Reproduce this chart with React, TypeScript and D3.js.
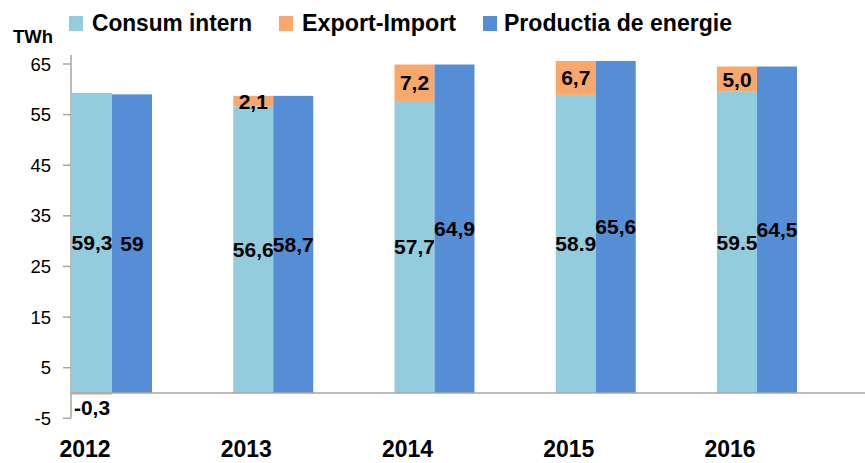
import React from "react";
import * as d3 from "d3";

const years = ["2012", "2013", "2014", "2015", "2016"];
const consum = [59.3, 56.6, 57.7, 58.9, 59.5];
const exportImport = [-0.3, 2.1, 7.2, 6.7, 5.0];
const productie = [59, 58.7, 64.9, 65.6, 64.5];
const consumLabels = ["59,3", "56,6", "57,7", "58.9", "59.5"];
const exportLabels = ["-0,3", "2,1", "7,2", "6,7", "5,0"];
const productieLabels = ["59", "58,7", "64,9", "65,6", "64,5"];
const yTicks = [-5, 5, 15, 25, 35, 45, 55, 65];
const seriesNames = ["Consum intern", "Export-Import", "Productia de energie"];
const colors = ["#93CDDD", "#F9A86B", "#558ED5"];

const W = 865;
const H = 463;
const FONT = "'Liberation Sans', Arial, sans-serif";

export default function App() {
  const x = d3
    .scaleBand<string>()
    .domain(years)
    .range([72, 797])
    .paddingInner(1 - 80 / 161.25)
    .paddingOuter(0)
    .align(0);
  const inner = d3
    .scaleBand<string>()
    .domain(["c", "p"])
    .range([0, x.bandwidth()])
    .padding(0);
  const y = d3.scaleLinear().domain([-5, 65]).range([418.3, 64]);
  const axisX = 71;
  const gray = "#A6A6A6";

  const legendItems = [
    { sx: 69, tx: 92, w: 160 },
    { sx: 279, tx: 302, w: 154 },
    { sx: 483, tx: 504, w: 228 },
  ];

  return (
    <svg width={W} height={H} style={{ position: "absolute", left: 0, top: 0, background: "#fff" }}>
      <rect x={0} y={0} width={W} height={H} fill="#fff" />
      {/* legend */}
      {legendItems.map((l, i) => (
        <g key={i}>
          <rect x={l.sx} y={16} width={14} height={15} fill={colors[i]} />
          <text
            x={l.tx}
            y={31}
            fontFamily={FONT}
            fontWeight="bold"
            fontSize={23}
            textLength={l.w}
            lengthAdjust="spacingAndGlyphs"
            fill="#000"
          >
            {seriesNames[i]}
          </text>
        </g>
      ))}
      {/* unit */}
      <text x={13} y={43} fontFamily={FONT} fontWeight="bold" fontSize={19} textLength={40} lengthAdjust="spacingAndGlyphs">
        TWh
      </text>
      {/* y axis */}
      <line x1={axisX} x2={axisX} y1={y(65) - 9} y2={y(-5)} stroke={gray} strokeWidth={1.5} />
      {yTicks.map((t) => (
        <g key={t}>
          <line x1={63} x2={axisX} y1={y(t)} y2={y(t)} stroke={gray} strokeWidth={1.5} />
          <text x={51} y={y(t) + 6.5} textAnchor="end" fontFamily={FONT} fontSize={18.5} fill="#000">
            {t}
          </text>
        </g>
      ))}
      {/* bars */}
      {years.map((yr, i) => {
        const gx = x(yr)!;
        const cx = gx + inner("c")!;
        const px = gx + inner("p")!;
        const bw = inner.bandwidth();
        const cTop = y(consum[i]);
        const eVal = exportImport[i];
        const eStart = eVal >= 0 ? consum[i] : 0;
        const eEnd = eVal >= 0 ? consum[i] + eVal : eVal;
        const eTop = y(Math.max(eStart, eEnd));
        const eBot = y(Math.min(eStart, eEnd));
        return (
          <g key={yr}>
            <rect x={cx} y={cTop} width={bw} height={y(0) - cTop} fill={colors[0]} />
            <rect x={cx} y={eTop} width={bw} height={Math.max(eBot - eTop, 1.5)} fill={colors[1]} />
            <rect x={px} y={y(productie[i])} width={bw} height={y(0) - y(productie[i])} fill={colors[2]} />
          </g>
        );
      })}
      {/* x baseline */}
      <line x1={axisX} x2={W} y1={y(0)} y2={y(0)} stroke={gray} strokeWidth={1.5} />
      {/* labels */}
      {years.map((yr, i) => {
        const gx = x(yr)!;
        const bw = inner.bandwidth();
        const cxm = gx + inner("c")! + bw / 2;
        const pxm = gx + inner("p")! + bw / 2;
        const eVal = exportImport[i];
        const eLabelY = eVal >= 0 ? y(consum[i] + eVal / 2) : y(0) + 15;
        const lbl = { fontFamily: FONT, fontWeight: "bold" as const, fontSize: 21, textAnchor: "middle" as const, fill: "#000" };
        return (
          <g key={yr}>
            <text x={cxm} y={y(consum[i] / 2) + 7.5} {...lbl}>
              {consumLabels[i]}
            </text>
            <text x={pxm} y={y(productie[i] / 2) + 7.5} {...lbl}>
              {productieLabels[i]}
            </text>
            <text x={cxm} y={eLabelY + 7.5} {...lbl}>
              {exportLabels[i]}
            </text>
            <text x={gx + 13} y={457} fontFamily={FONT} fontWeight="bold" fontSize={23} textAnchor="middle" fill="#000">
              {yr}
            </text>
          </g>
        );
      })}
    </svg>
  );
}
